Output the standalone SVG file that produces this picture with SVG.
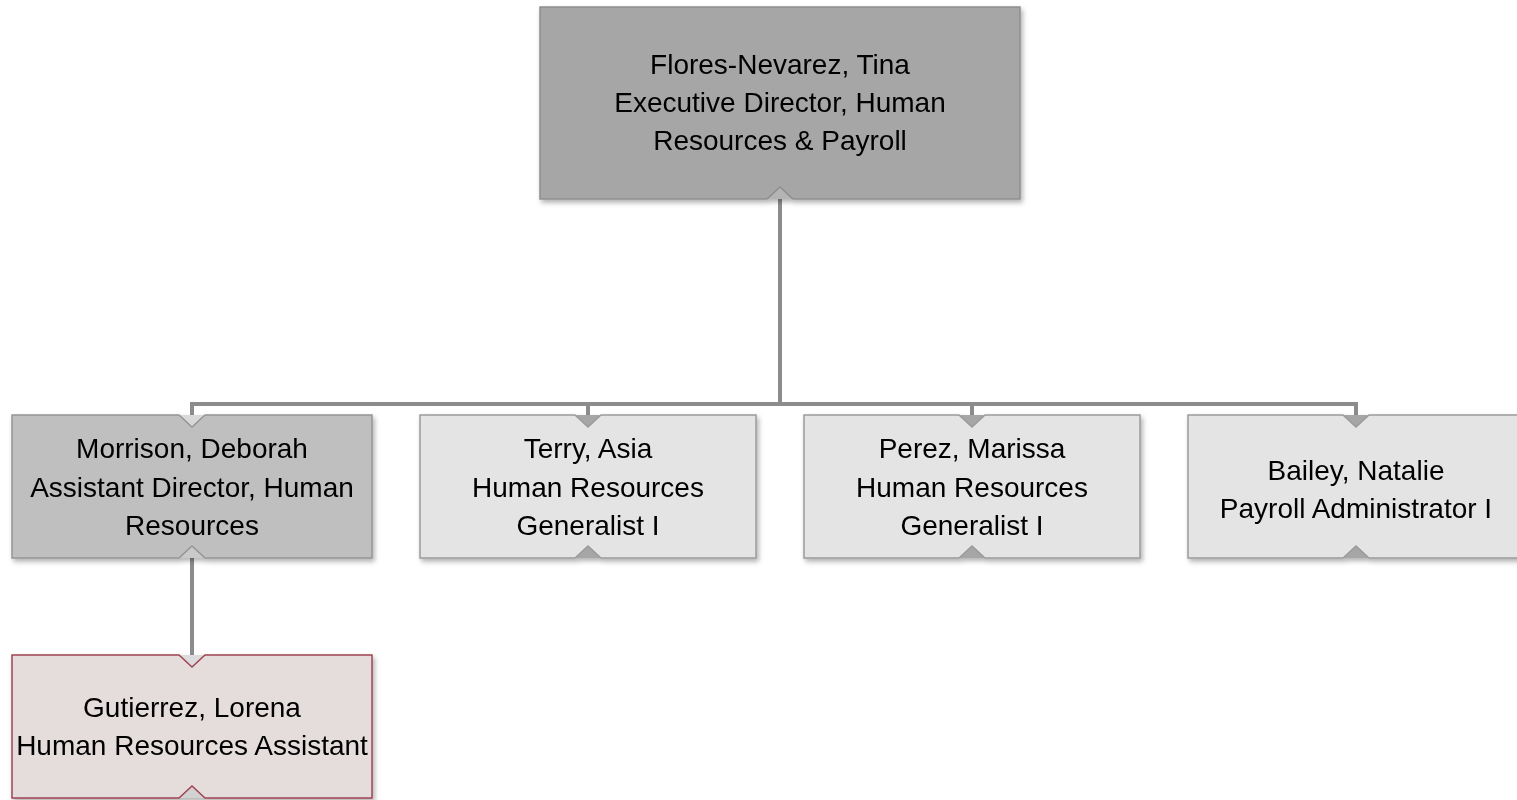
<svg xmlns="http://www.w3.org/2000/svg" width="1517" height="800" viewBox="0 0 1517 800">
<style>
.t{font-family:"Liberation Sans",Arial,sans-serif;font-size:28px;fill:#000;text-anchor:middle}
.conn{fill:none;stroke:#8c8c8c;stroke-width:4}
.box{stroke-width:1.5}
.dk{fill:#a6a6a6;stroke:#8e8e8e}
.md{fill:#bfbfbf;stroke:#959595}
.lt{fill:#e4e4e4;stroke:#9b9b9b}
.rd{fill:#e5dcdc;stroke:#9e4452}
</style>
<defs>
<filter id="sh" x="-5%" y="-5%" width="115%" height="120%">
<feDropShadow dx="2" dy="3" stdDeviation="2.5" flood-color="#000" flood-opacity="0.3"/>
</filter>
</defs>
<rect width="1517" height="800" fill="#fff"/>
<g id="connectors">
<path class="conn" d="M780 199 V404 M192 404 H1356 M192 402 V415 M588 402 V415 M972 402 V415 M1356 402 V415 M192 558 V655"/>
</g>
<g id="n-flores" filter="url(#sh)">
<polygon points="767,199 780,187 793,199" fill="#b4b4b4"/>
<path class="box dk" d="M540 7 H1020 V199 H793 L780 187 L767 199 H540 Z"/>
<text class="t" x="780" y="74">Flores-Nevarez, Tina</text>
<text class="t" x="780" y="112">Executive Director, Human</text>
<text class="t" x="780" y="150">Resources &amp; Payroll</text>
</g>
<g id="n-morrison" filter="url(#sh)">
<polygon points="179,415 192,427 205,415" fill="#d9d9d9"/>
<polygon points="179,558 192,546 205,558" fill="#cacaca"/>
<path class="box md" d="M12 415 H179 L192 427 L205 415 H372 V558 H205 L192 546 L179 558 H12 Z"/>
<text class="t" x="192" y="458">Morrison, Deborah</text>
<text class="t" x="192" y="497">Assistant Director, Human</text>
<text class="t" x="192" y="535">Resources</text>
</g>
<g id="n-terry" filter="url(#sh)">
<polygon points="575,415 588,427 601,415" fill="#a6a6a6"/>
<polygon points="575,558 588,546 601,558" fill="#a6a6a6"/>
<path class="box lt" d="M420 415 H575 L588 427 L601 415 H756 V558 H601 L588 546 L575 558 H420 Z"/>
<text class="t" x="588" y="458">Terry, Asia</text>
<text class="t" x="588" y="497">Human Resources</text>
<text class="t" x="588" y="535">Generalist I</text>
</g>
<g id="n-perez" filter="url(#sh)">
<polygon points="959,415 972,427 985,415" fill="#a6a6a6"/>
<polygon points="959,558 972,546 985,558" fill="#a6a6a6"/>
<path class="box lt" d="M804 415 H959 L972 427 L985 415 H1140 V558 H985 L972 546 L959 558 H804 Z"/>
<text class="t" x="972" y="458">Perez, Marissa</text>
<text class="t" x="972" y="497">Human Resources</text>
<text class="t" x="972" y="535">Generalist I</text>
</g>
<g id="n-bailey" filter="url(#sh)">
<polygon points="1343,415 1356,427 1369,415" fill="#a6a6a6"/>
<polygon points="1343,558 1356,546 1369,558" fill="#a6a6a6"/>
<path class="box lt" d="M1188 415 H1343 L1356 427 L1369 415 H1524 V558 H1369 L1356 546 L1343 558 H1188 Z"/>
<text class="t" x="1356" y="480">Bailey, Natalie</text>
<text class="t" x="1356" y="518">Payroll Administrator I</text>
</g>
<g id="n-gutierrez" filter="url(#sh)">
<polygon points="179,655 192,667 205,655" fill="#dcdcdc"/>
<polygon points="179,798 192,786 205,798" fill="#d2d2d2"/>
<path class="box rd" d="M12 655 H179 L192 667 L205 655 H372 V798 H205 L192 786 L179 798 H12 Z"/>
<text class="t" x="192" y="717">Gutierrez, Lorena</text>
<text class="t" x="192" y="755">Human Resources Assistant</text>
</g>
</svg>
